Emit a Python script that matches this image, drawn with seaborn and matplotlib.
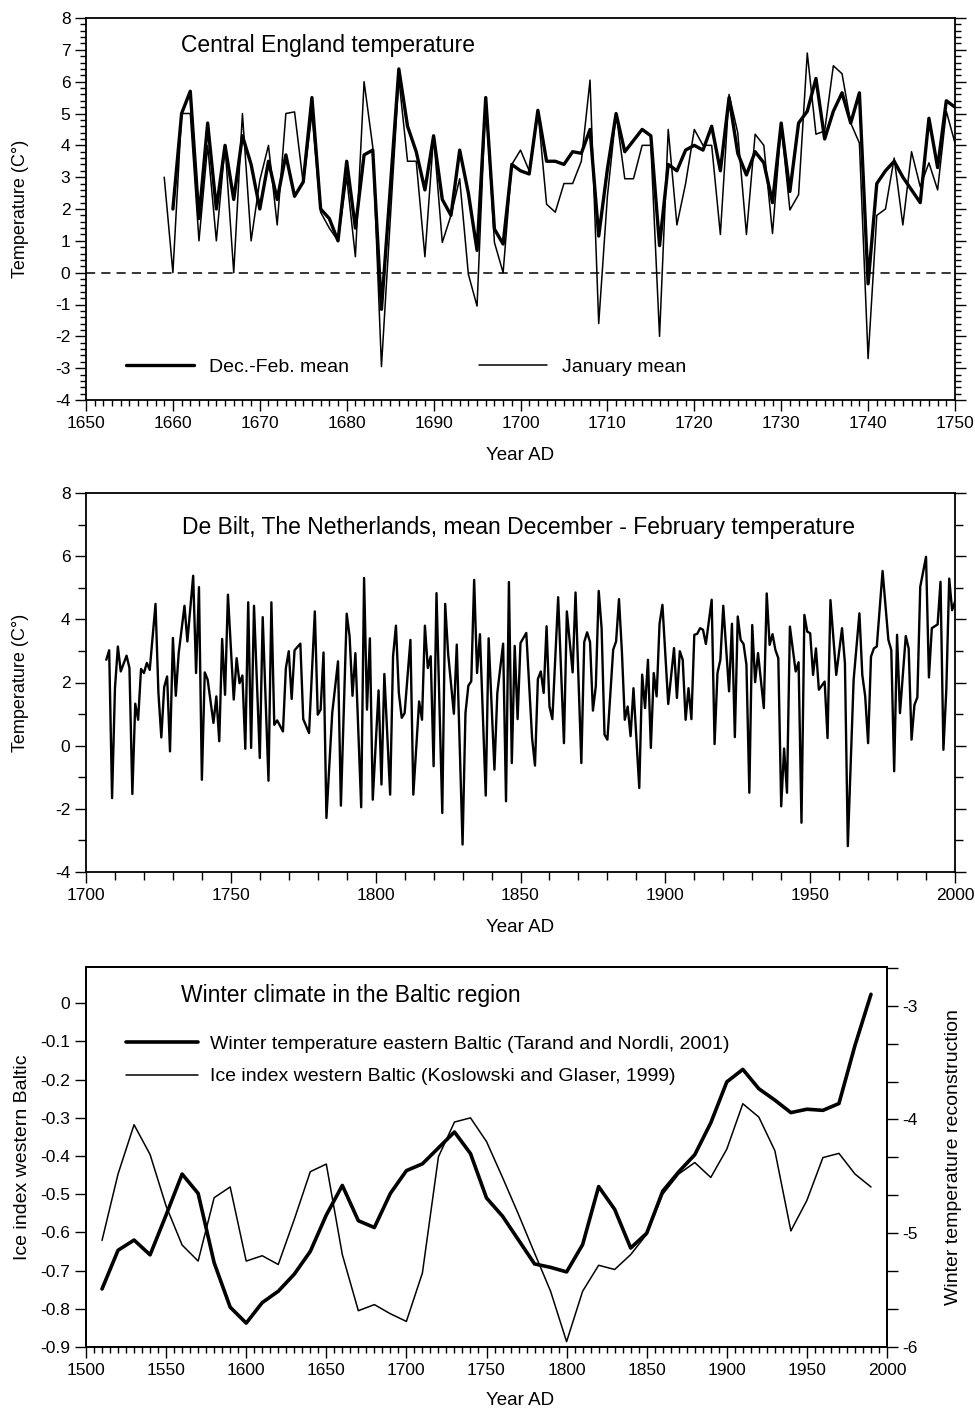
import matplotlib
matplotlib.use("Agg")
import matplotlib.pyplot as plt
import seaborn as sns
from matplotlib.ticker import MultipleLocator, FixedLocator, FuncFormatter

# ---------------- data ----------------
# Central England temperature (top panel)
cet_jan_years = list(range(1659, 1751))
cet_jan = [3.0, 0.0, 5.0, 5.0, 1.0, 4.0, 1.0, 4.0, 0.0, 5.0,
           1.0, 2.9, 4.0, 1.5, 5.0, 5.05, 2.8, 5.0, 1.9, 1.4,
           1.0, 3.0, 0.5, 6.0, 3.95, -2.95, 1.6, 6.1, 3.5, 3.5,
           0.5, 4.3, 0.95, 1.8, 2.95, -0.05, -1.05, 5.5, 0.95, 0.0,
           3.4, 3.85, 3.2, 5.1, 2.15, 1.9, 2.8, 2.8, 3.5, 6.05,
           -1.6, 2.4, 5.0, 2.95, 2.95, 4.0, 4.0, -2.0, 4.5, 1.5,
           2.8, 4.5, 4.0, 4.0, 1.2, 5.6, 4.4, 1.2, 4.35, 4.0,
           1.23, 4.65, 1.97, 2.45, 6.9, 4.35, 4.45, 6.5, 6.25, 4.7,
           4.07, -2.7, 1.8, 2.0, 3.6, 1.5, 3.8, 2.7, 3.45, 2.6,
           5.07, 4.07]
cet_djf_years = list(range(1660, 1751))
cet_djf = [2.0, 5.0, 5.7, 1.7, 4.7, 2.0, 4.0, 2.3, 4.3, 3.4,
           2.0, 3.5, 2.3, 3.7, 2.4, 2.85, 5.5, 2.0, 1.7, 1.0,
           3.5, 1.4, 3.7, 3.85, -1.15, 2.6, 6.4, 4.6, 3.8, 2.6,
           4.3, 2.3, 1.8, 3.85, 2.5, 0.7, 5.5, 1.37, 0.9, 3.4,
           3.2, 3.1, 5.1, 3.5, 3.5, 3.4, 3.8, 3.75, 4.5, 1.15,
           3.25, 5.0, 3.8, 4.15, 4.5, 4.3, 0.85, 3.4, 3.2, 3.85,
           4.0, 3.85, 4.6, 3.2, 5.5, 3.75, 3.07, 3.8, 3.45, 2.2,
           4.7, 2.55, 4.7, 5.07, 6.1, 4.2, 5.07, 5.65, 4.7, 5.65,
           -0.35, 2.8, 3.2, 3.5, 3.0, 2.6, 2.2, 4.85, 3.3, 5.4,
           5.2]

# De Bilt mean Dec-Feb temperature (middle panel)
debilt_years = [
    1707, 1708, 1709, 1710, 1711, 1712, 1714, 1715, 1716, 1717, 1718, 1719, 1720,
    1721, 1722, 1724, 1725, 1726, 1727, 1728, 1729, 1730, 1731, 1732, 1734, 1735,
    1737, 1738, 1739, 1740, 1741, 1742, 1744, 1745, 1746, 1747, 1748, 1749, 1751,
    1752, 1753, 1754, 1755, 1756, 1757, 1758, 1760, 1761, 1763, 1764, 1765, 1766,
    1768, 1769, 1770, 1771, 1772, 1774, 1775, 1777, 1779, 1780, 1781, 1782, 1783,
    1785, 1787, 1788, 1790, 1791, 1792, 1793, 1795, 1796, 1797, 1798, 1799, 1801,
    1802, 1803, 1805, 1806, 1807, 1808, 1809, 1810, 1812, 1813, 1815, 1816, 1817,
    1818, 1819, 1820, 1821, 1823, 1824, 1825, 1827, 1828, 1830, 1831, 1832, 1833,
    1834, 1835, 1836, 1838, 1839, 1841, 1842, 1844, 1845, 1846, 1847, 1848, 1849,
    1850, 1852, 1854, 1855, 1856, 1857, 1858, 1859, 1860, 1861, 1863, 1865, 1866,
    1868, 1869, 1871, 1872, 1873, 1874, 1875, 1876, 1877, 1878, 1879, 1880, 1882,
    1883, 1884, 1885, 1886, 1887, 1888, 1889, 1891, 1892, 1893, 1894, 1895, 1896,
    1897, 1898, 1899, 1901, 1903, 1904, 1905, 1906, 1907, 1908, 1909, 1910, 1911,
    1912, 1913, 1914, 1916, 1917, 1918, 1919, 1920, 1922, 1923, 1924, 1925, 1926,
    1927, 1928, 1929, 1930, 1931, 1932, 1934, 1935, 1936, 1937, 1938, 1939, 1940,
    1941, 1942, 1943, 1945, 1946, 1947, 1948, 1949, 1950, 1951, 1952, 1953, 1955,
    1956, 1957, 1959, 1961, 1962, 1963, 1965, 1967, 1968, 1969, 1970, 1971, 1972,
    1973, 1975, 1977, 1978, 1979, 1980, 1981, 1983, 1984, 1985, 1986, 1987, 1988,
    1990, 1991, 1992, 1994, 1995, 1996, 1997, 1998, 1999, 2000]
debilt_temp = [
    2.72, 3.02, -1.66, 1.82, 3.14, 2.35, 2.85, 2.46, -1.53, 1.33, 0.82, 2.43, 2.30,
    2.62, 2.40, 4.49, 1.67, 0.26, 1.86, 2.19, -0.18, 3.41, 1.58, 2.93, 4.43, 3.30,
    5.38, 2.30, 5.02, -1.08, 2.32, 2.09, 0.72, 1.56, 0.14, 3.38, 1.61, 4.78, 1.46,
    2.77, 1.98, 2.22, -0.10, 4.54, -0.07, 4.43, -0.39, 4.07, -1.11, 4.54, 0.66, 0.80,
    0.45, 2.46, 2.99, 1.48, 3.02, 3.23, 0.84, 0.40, 4.25, 0.98, 1.14, 2.95, -2.29,
    1.03, 2.67, -1.90, 4.18, 3.46, 1.58, 2.93, -1.95, 5.31, 1.14, 3.40, -1.71, 1.75,
    -1.23, 2.27, -1.55, 2.83, 3.80, 1.67, 0.88, 1.03, 3.35, -1.55, 1.40, 0.82, 3.80,
    2.46, 2.83, -0.65, 4.83, -2.13, 4.49, 2.93, 1.01, 3.20, -3.13, 1.03, 1.90, 2.04,
    5.25, 2.30, 3.53, -1.58, 3.40, -0.76, 1.67, 3.23, -1.76, 5.18, -0.55, 3.16, 0.84,
    3.25, 3.57, 0.24, -0.63, 2.11, 2.35, 1.67, 3.78, 1.24, 0.84, 4.70, 0.08, 4.25,
    2.32, 4.85, -0.55, 3.28, 3.59, 3.28, 1.11, 1.88, 4.90, 3.72, 0.35, 0.19, 3.04,
    3.30, 4.64, 2.99, 0.82, 1.24, 0.30, 1.82, -1.34, 2.25, 1.19, 2.72, -0.07, 2.30,
    1.56, 3.86, 4.46, 1.32, 3.09, 1.51, 2.99, 2.72, 0.82, 1.82, 0.84, 3.51, 3.54,
    3.72, 3.67, 3.22, 4.62, 0.05, 2.30, 2.72, 4.43, 1.72, 3.86, 0.27, 4.09, 3.35,
    3.22, 2.56, -1.49, 3.82, 2.01, 2.93, 1.19, 4.82, 3.19, 3.53, 3.03, 2.77, -1.92,
    -0.09, -1.49, 3.77, 2.35, 2.64, -2.44, 4.14, 3.61, 3.56, 2.24, 3.08, 1.77, 2.03,
    0.24, 4.61, 2.24, 3.72, 2.61, -3.18, 2.08, 4.19, 2.24, 1.56, 0.08, 2.82, 3.08,
    3.14, 5.53, 3.35, 3.03, -0.81, 3.51, 1.03, 3.47, 3.08, 0.19, 1.29, 1.53, 5.03,
    5.98, 2.16, 3.72, 3.84, 5.19, -0.13, 1.77, 5.29, 4.29, 4.56]

# Baltic winter climate (bottom panel), decadal values 1510-1990
baltic_years = list(range(1510, 2000, 10))
ice_index = [-0.621, -0.447, -0.318, -0.396, -0.531, -0.633, -0.675, -0.509, -0.481, -0.675,
             -0.661, -0.684, -0.566, -0.441, -0.421, -0.658, -0.805, -0.789, -0.813, -0.833,
             -0.706, -0.402, -0.311, -0.300, -0.362, -0.456, -0.553, -0.654, -0.754, -0.886,
             -0.754, -0.686, -0.697, -0.658, -0.605, -0.500, -0.447, -0.417, -0.456, -0.382,
             -0.263, -0.298, -0.386, -0.596, -0.516, -0.404, -0.393, -0.447, -0.481]
winter_temp = [-5.49, -5.15, -5.06, -5.19, -4.84, -4.48, -4.65, -5.26, -5.65, -5.79,
               -5.61, -5.51, -5.36, -5.16, -4.84, -4.58, -4.89, -4.95, -4.65, -4.45,
               -4.39, -4.25, -4.11, -4.30, -4.69, -4.85, -5.06, -5.27, -5.30, -5.34,
               -5.10, -4.59, -4.79, -5.13, -5.00, -4.63, -4.46, -4.31, -4.03, -3.67,
               -3.56, -3.73, -3.83, -3.94, -3.91, -3.92, -3.86, -3.35, -2.90]

# ---------------- style ----------------
sns.set_style("ticks")
plt.rcParams['font.family'] = ['Liberation Sans', 'DejaVu Sans']
plt.rcParams['axes.unicode_minus'] = False
plt.rcParams['axes.linewidth'] = 1.3
plt.rcParams['axes.edgecolor'] = 'black'
plt.rcParams['text.color'] = 'black'
plt.rcParams['axes.labelcolor'] = 'black'
plt.rcParams['xtick.color'] = 'black'
plt.rcParams['ytick.color'] = 'black'

TICK_FS = 12.5
LABEL_FS = 13.5
TITLE_FS = 16.5
LEG_FS = 14

fig = plt.figure(figsize=(9.75, 14.08), dpi=100)
W, H = 975.0, 1408.0


def axrect(l, r, t, b):
    return [l / W, 1 - b / H, (r - l) / W, (b - t) / H]


def style_ticks(ax, right=True):
    ax.tick_params(which='both', direction='out', colors='black', width=1.0,
                   top=False, right=right, labelright=False, labelsize=TICK_FS, pad=3.5)
    ax.tick_params(which='major', length=7.7)
    ax.tick_params(which='minor', length=4)
    for s in ax.spines.values():
        s.set_visible(True)
        s.set_color('black')


# ---------------- top panel ----------------
ax1 = fig.add_axes(axrect(86, 955, 18, 400))
sns.lineplot(x=cet_djf_years, y=cet_djf, ax=ax1, color='black', lw=2.4,
             label='Dec.-Feb. mean')
sns.lineplot(x=cet_jan_years, y=cet_jan, ax=ax1, color='black', lw=1.1,
             label='January mean')
ax1.axhline(0, color='black', lw=1.1, ls=(0, (6, 4)))
ax1.set_xlim(1650, 1750)
ax1.set_ylim(-4, 8)
ax1.xaxis.set_major_locator(MultipleLocator(10))
ax1.xaxis.set_minor_locator(MultipleLocator(1))
ax1.yaxis.set_major_locator(MultipleLocator(1))
ax1.yaxis.set_minor_locator(MultipleLocator(0.2))
style_ticks(ax1)
ax1.set_xlabel('Year AD', fontsize=LABEL_FS)
ax1.set_ylabel('Temperature (C°)', fontsize=13)
ax1.xaxis.set_label_coords(0.499, -0.123)
ax1.yaxis.set_label_coords(-0.066, 0.5)
ax1.text(0.109, 0.929, 'Central England temperature', transform=ax1.transAxes,
         fontsize=TITLE_FS, ha='left', va='center')
h, l = ax1.get_legend_handles_labels()
ax1.legend(h, l, ncol=2, loc='center left', bbox_to_anchor=(0.046, 0.086),
           frameon=False, fontsize=LEG_FS, handlelength=3.5, handletextpad=0.75,
           columnspacing=6.7, borderpad=0, borderaxespad=0)

# ---------------- middle panel ----------------
ax2 = fig.add_axes(axrect(86, 955, 493, 872))
sns.lineplot(x=debilt_years, y=debilt_temp, ax=ax2, color='black', lw=1.7)
ax2.set_xlim(1700, 2000)
ax2.set_ylim(-4, 8)
ax2.xaxis.set_major_locator(MultipleLocator(50))
ax2.xaxis.set_minor_locator(MultipleLocator(10))
ax2.yaxis.set_major_locator(MultipleLocator(2))
ax2.yaxis.set_minor_locator(MultipleLocator(1))
style_ticks(ax2)
ax2.tick_params(which='minor', length=6)
ax2.set_xlabel('Year AD', fontsize=LABEL_FS)
ax2.set_ylabel('Temperature (C°)', fontsize=13)
ax2.xaxis.set_label_coords(0.499, -0.125)
ax2.yaxis.set_label_coords(-0.066, 0.5)
ax2.text(0.110, 0.910, 'De Bilt, The Netherlands, mean December - February temperature',
         transform=ax2.transAxes, fontsize=TITLE_FS, ha='left', va='center')

# ---------------- bottom panel ----------------
ax3 = fig.add_axes(axrect(86, 887, 967, 1347))
ax4 = ax3.twinx()
sns.lineplot(x=baltic_years, y=ice_index, ax=ax3, color='black', lw=1.1,
             label='Ice index western Baltic (Koslowski and Glaser, 1999)', legend=False)
sns.lineplot(x=baltic_years, y=winter_temp, ax=ax4, color='black', lw=2.6,
             label='Winter temperature eastern Baltic (Tarand and Nordli, 2001)', legend=False)
ax3.set_xlim(1500, 2000)
ax3.set_ylim(-0.9, 0.095)
ax4.set_ylim(-6, -2.66)
ax3.xaxis.set_major_locator(MultipleLocator(50))
ax3.xaxis.set_minor_locator(MultipleLocator(5))
ax3.yaxis.set_major_locator(MultipleLocator(0.1))
ax3.yaxis.set_major_formatter(FuncFormatter(lambda v, p: '0' if abs(v) < 1e-9 else f'{v:.1f}'))
ax4.yaxis.set_major_locator(FixedLocator([-6, -5, -4, -3]))
ax4.yaxis.set_minor_locator(FixedLocator([-6 + k / 3 for k in range(1, 11)]))
style_ticks(ax3, right=False)
ax4.tick_params(which='both', direction='out', colors='black', width=1.0,
                left=False, right=True, labelright=True, labelsize=TICK_FS, pad=3.5)
ax4.tick_params(which='major', length=7.7)
ax4.tick_params(which='minor', length=7.7)
for s in ax4.spines.values():
    s.set_color('black')
ax3.set_xlabel('Year AD', fontsize=LABEL_FS)
ax3.set_ylabel('Ice index western Baltic', fontsize=14)
ax4.set_ylabel('Winter temperature reconstruction', fontsize=14)
ax3.xaxis.set_label_coords(0.542, -0.118)
ax3.yaxis.set_label_coords(-0.069, 0.5)
ax4.yaxis.set_label_coords(1.072, 0.5)
ax3.text(0.1186, 0.924, 'Winter climate in the Baltic region', transform=ax3.transAxes,
         fontsize=TITLE_FS, ha='left', va='center')
h3, l3 = ax3.get_legend_handles_labels()
h4, l4 = ax4.get_legend_handles_labels()
ax4.legend(h4 + h3, l4 + l3, loc='center left', bbox_to_anchor=(0.05, 0.754),
           frameon=False, fontsize=LEG_FS, handlelength=3.7, handletextpad=0.6,
           labelspacing=0.75, borderpad=0, borderaxespad=0)

fig.savefig('out.png', dpi=100)
